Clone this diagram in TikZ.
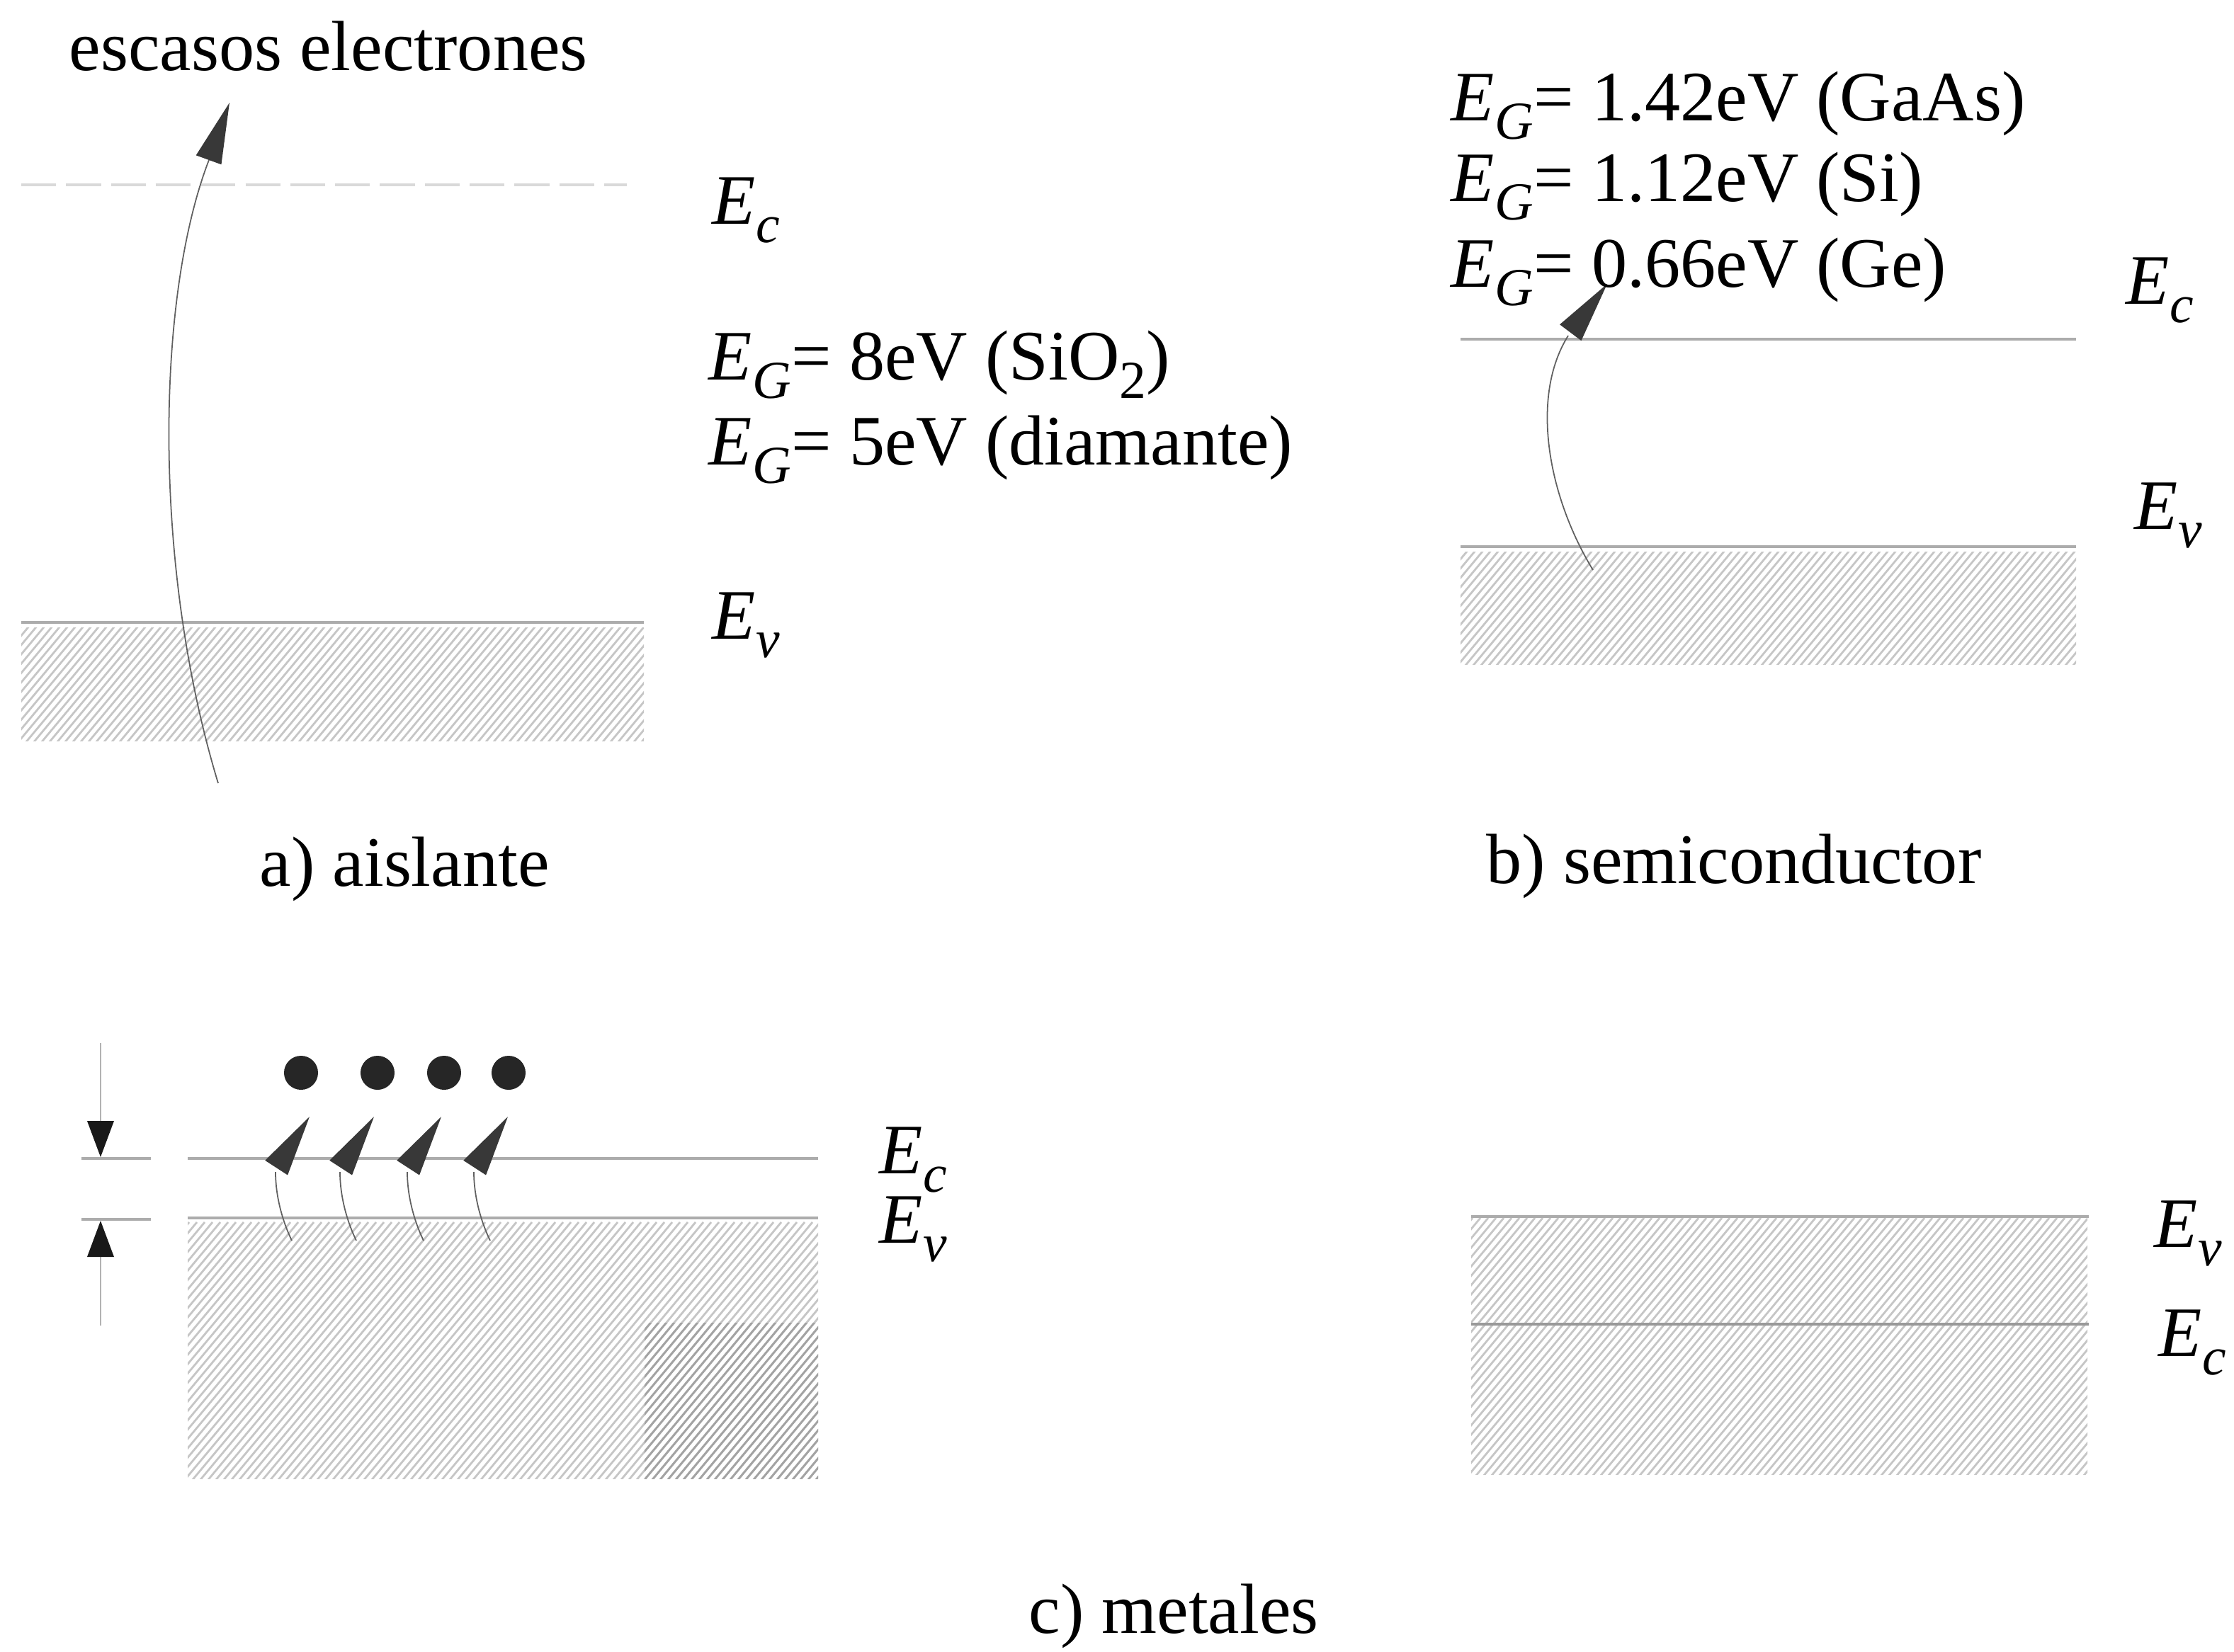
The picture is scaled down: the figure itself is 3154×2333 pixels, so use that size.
\documentclass[tikz,border=0pt]{standalone}
\usepackage{fontspec}
\setmainfont{Liberation Serif}
\usetikzlibrary{arrows.meta}
\newcommand\Esub[1]{\textit{E}\kern0.01em\raisebox{-0.26em}{\fontsize{21.5}{22}\selectfont\textit{#1}}}
\newcommand\subtwo{\raisebox{-0.26em}{\fontsize{21.5}{22}\selectfont 2}}
% hatch: style, clip x0,y0,x1,y1, origin x, origin y (bottom)
\newcommand\hatchA[7]{%
  \begin{scope}
    \clip (#2,#3) rectangle (#4,#5);
    \foreach \i in {0,...,135}{\draw[#1] ({#6-330+11*\i},{#7+10}) -- ++(310,-372);}
  \end{scope}}
\newcommand\arrhead[3]{\fill[headc,shift={(#1,#2)},rotate=#3] (0,0) -- (-86,-19) -- (-86,19) -- cycle;}
\begin{document}
\begin{tikzpicture}[x=0.01cm,y=-0.01cm,
  lab/.style={anchor=base west,inner sep=0pt,font=\fontsize{28.5}{34}\selectfont},
  hatchc/.style={draw=gray!45,line width=0.8pt},
  hatchd/.style={draw=gray!72,line width=0.8pt},
  lev/.style={draw=gray!65,line width=0.9pt},
  levfaint/.style={draw=gray!30,line width=0.9pt,dash pattern=on 14pt off 4pt},
  curv/.style={draw=gray!75!black,line width=0.5pt},
  headc/.style={fill=black!78},
  dotc/.style={fill=black!85},
  dimline/.style={draw=gray!60,line width=0.6pt}]
\useasboundingbox (0,0) rectangle (3154,2333);

% ---------------- panel a ----------------
\hatchA{hatchc}{30}{886}{909}{1046}{30}{1046}
\draw[levfaint] (30,261) -- (885,261);
\draw[lev] (30,879) -- (909,879);
\draw[curv] (308,1106) .. controls (215,800) and (220,420) .. (295,226);
\arrhead{324}{145}{70}
\node[lab] (esc) at (97,99) {escasos electrones};
\node[lab] (aEc) at (1005,316) {\Esub{c}};
\node[lab] (aG1) at (1000,536) {\Esub{G}= 8eV (SiO\subtwo)};
\node[lab] (aG2) at (1000,656) {\Esub{G}= 5eV (diamante)};
\node[lab] (aEv) at (1005,902) {\Esub{v}};
\node[lab] (acap) at (366,1251) {a) aislante};

% ---------------- panel b ----------------
\hatchA{hatchc}{2062}{779}{2931}{938}{2062}{938}
\draw[lev] (2062,479) -- (2931,479);
\draw[lev] (2062,772) -- (2931,772);
\draw[curv] (2249,805) .. controls (2185,700) and (2160,560) .. (2214,474);
\arrhead{2269}{401}{53}
\node[lab] (bG1) at (2048,170) {\Esub{G}= 1.42eV (GaAs)};
\node[lab] (bG2) at (2048,284) {\Esub{G}= 1.12eV (Si)};
\node[lab] (bG3) at (2048,405) {\Esub{G}= 0.66eV (Ge)};
\node[lab] (bEc) at (3001,429) {\Esub{c}};
\node[lab] (bEv) at (3013,747) {\Esub{v}};
\node[lab] (bcap) at (2098,1247) {b) semiconductor};

% ---------------- panel c, left ----------------
\hatchA{hatchc}{265}{1723}{1155}{2088}{265}{2088}
\hatchA{hatchd}{910}{1868}{1155}{2088}{265}{2088}
\draw[lev] (265,1636) -- (1155,1636);
\draw[lev] (265,1720) -- (1155,1720);
\draw[lev] (115,1636) -- (213,1636);
\draw[lev] (115,1722) -- (213,1722);
\draw[dimline] (142,1473) -- (142,1590);
\fill[black!90] (142,1634) -- (123,1583) -- (161,1583) -- cycle;
\draw[dimline] (142,1770) -- (142,1872);
\fill[black!90] (142,1724) -- (123,1775) -- (161,1775) -- cycle;
\foreach \tx/\dx in {437/425,528/533,623/627,717/718}{
  \draw[curv] ({\tx-25},1752) .. controls ({\tx-38},1725) and ({\tx-48},1690) .. ({\tx-48},1655);
  \arrhead{\tx}{1577}{57}
  \fill[dotc] (\dx,1515) circle[radius=0.24cm];
}
\node[lab] (cEc) at (1241,1657) {\Esub{c}};
\node[lab] (cEv) at (1241,1755) {\Esub{v}};

% ---------------- panel c, right ----------------
\hatchA{hatchc}{2077}{1720}{2947}{2082}{2077}{2082}
\draw[lev] (2077,1718) -- (2949,1718);
\draw[lev,draw=gray!80] (2077,1870) -- (2949,1870);
\node[lab] (dEv) at (3041,1761) {\Esub{v}};
\node[lab] (dEc) at (3047,1915) {\Esub{c}};
\node[lab] (ccap) at (1452,2306) {c) metales};
\end{tikzpicture}
\end{document}
